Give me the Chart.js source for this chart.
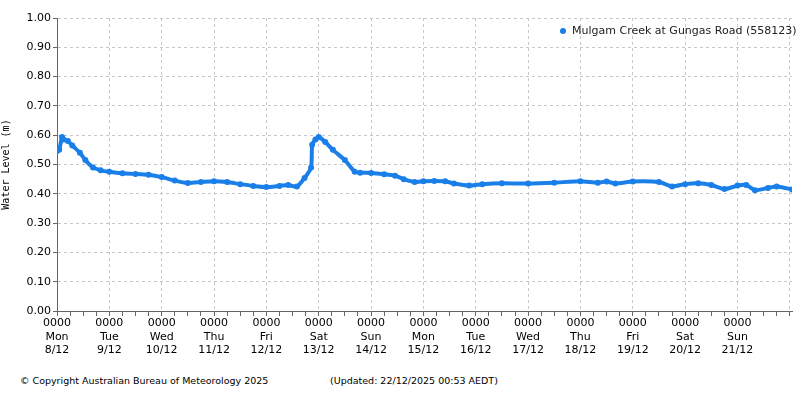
<!DOCTYPE html>
<html><head><meta charset="utf-8">
<script src="https://cdn.jsdelivr.net/npm/chart.js@4"></script>
<style>
body{margin:0;background:#fff;font-family:"DejaVu Sans",sans-serif;}
#wrap{position:relative;width:800px;height:400px;}
#c{position:absolute;left:0;top:0;}
.t{position:absolute;font-size:9.5px;color:#000;white-space:nowrap;}
#leg{position:absolute;left:560px;top:24px;font-size:11px;color:#222;white-space:nowrap;}
#leg span{display:inline-block;width:6px;height:6px;border-radius:3px;background:#1a7fe8;margin-right:6px;vertical-align:middle;}
</style></head><body>
<div id="wrap">
<canvas id="c" width="800" height="366"></canvas>
<div id="leg"><span></span>Mulgam Creek at Gungas Road (558123)</div>
<div class="t" style="left:20px;top:375px">© Copyright Australian Bureau of Meteorology 2025</div>
<div class="t" style="left:330px;top:375px">(Updated: 22/12/2025 00:53 AEDT)</div>
</div>
<script>
const hours=[0,1,2.3,3,5,7,10.5,13,16.5,20,24,30,36,42,48,54,60,66,72,78,84,90,96,102,106,110,113.5,116.5,117,118.5,120,123,126.5,132,136.5,139,144,150,155,159,164,168,173,178,182,189,195,204,216,228,240,248,252,256,264,276,282,288,294,300,306,312,316,320,326,330,337];
const levels=[0.546,0.55,0.594,0.585,0.58,0.565,0.54,0.515,0.49,0.48,0.475,0.47,0.468,0.465,0.457,0.445,0.437,0.44,0.443,0.44,0.433,0.427,0.423,0.427,0.43,0.425,0.454,0.49,0.567,0.585,0.594,0.577,0.55,0.515,0.475,0.472,0.471,0.467,0.462,0.45,0.44,0.443,0.444,0.443,0.435,0.428,0.433,0.436,0.435,0.438,0.443,0.438,0.442,0.435,0.442,0.44,0.425,0.433,0.436,0.43,0.416,0.428,0.43,0.412,0.42,0.425,0.415];
const pts=hours.map((h,i)=>({x:h,y:levels[i]}));
const days=['Mon','Tue','Wed','Thu','Fri','Sat','Sun','Mon','Tue','Wed','Thu','Fri','Sat','Sun'];
const dates=['8/12','9/12','10/12','11/12','12/12','13/12','14/12','15/12','16/12','17/12','18/12','19/12','20/12','21/12'];
const yTicks=[0,0.1,0.2,0.3,0.4,0.5,0.6,0.7,0.8,0.9,1.0];
new Chart(document.getElementById('c'),{
type:'line',
data:{datasets:[{data:pts,borderColor:'#1a7fe8',backgroundColor:'#1a7fe8',borderWidth:4,pointRadius:1,tension:0.2}]},
options:{responsive:false,animation:false,
layout:{padding:{top:18,right:7,left:0,bottom:0}},
plugins:{legend:{display:false},tooltip:{enabled:false}},
scales:{
x:{type:'linear',min:0,max:337,afterFit:s=>{s.height=55;},
afterBuildTicks:s=>{const t=[];for(let h=0;h<=337;h+=6)t.push({value:h});s.ticks=t;},
grid:{color:c=>c.tick&&c.tick.value%24===0?'#c8c8c8':'rgba(0,0,0,0)',tickColor:'#666',tickLength:5},
border:{color:'#666',dash:[3,3]},
ticks:{autoSkip:false,maxRotation:0,padding:1,color:'#000',font:{family:'DejaVu Sans',size:11},
callback:v=>{if(v%24!==0||v/24>=14)return '';const d=v/24;return ['0000',days[d],dates[d]];}}},
y:{min:0,max:1,afterFit:s=>{s.width=57;},
afterBuildTicks:s=>{s.ticks=yTicks.map(v=>({value:v}));},
grid:{color:'#c8c8c8',tickColor:'#666',tickLength:4},
border:{color:'#666',dash:[3,3]},
title:{display:true,text:'Water Level (m)',color:'#000',font:{family:'DejaVu Sans Mono',size:10},padding:0},
ticks:{color:'#000',font:{family:'DejaVu Sans',size:11},padding:2,callback:v=>v.toFixed(2)}}
}}
});
</script>
</body></html>
